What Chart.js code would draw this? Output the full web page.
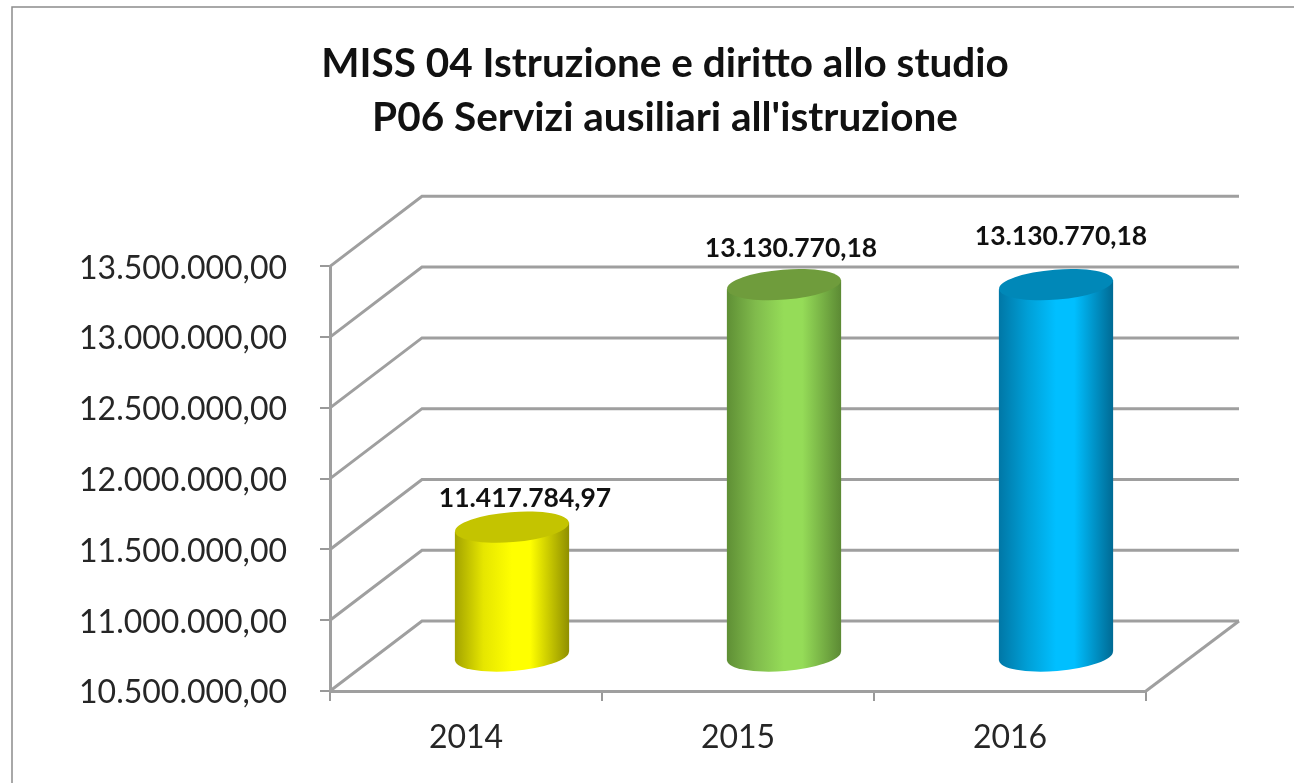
<!DOCTYPE html>
<html><head><meta charset="utf-8">
<style>html,body{margin:0;padding:0;background:#fff;overflow:hidden;width:1294px;height:783px}canvas{display:block}</style>
<script src="https://cdn.jsdelivr.net/npm/chart.js@4"></script>
</head><body><canvas id="c" width="1330" height="783"></canvas>
<script>
const categories = ['2014','2015','2016'];
const values = [11417784.97, 13130770.18, 13130770.18];
const titleLines = ['MISS 04 Istruzione e diritto allo studio', "P06 Servizi ausiliari all'istruzione"];
const axisMin = 10500000, axisMax = 13500000, axisStep = 500000;
const bodyStops = [
  ['#a3a300','#e6e600','#ffff00','#ffff00','#8f8f00'],
  ['#5f8f35','#80bb4c','#95dc58','#95dc58','#5c8a34'],
  ['#0077a6','#009fd6','#00bfff','#00bfff','#006a94']
];
const capColors = ['#c4c400','#6f9c3c','#0088b8'];

const fmt = v => new Intl.NumberFormat('it-IT',{minimumFractionDigits:2,maximumFractionDigits:2,useGrouping:'always'}).format(v);
const font = 'Lato, Carlito, sans-serif';
const WALL = {dx:92, dy:-70}, BAR = {dx:46, dy:-34}, TILT = -0.08, RY = 15;
const GRID = '#9f9f9f';
const labelNudge = [[13,-29],[7,-36],[5,-48]];

function bodyGradient(el,i,c){
  const half = el.width/2;
  const g = c.createLinearGradient(el.x-half,0,el.x+half,0);
  const s = bodyStops[i];
  [0,0.25,0.5,0.66,1].forEach((p,j)=>g.addColorStop(p,s[j]));
  return g;
}

const cylinder3d = {
  id:'cylinder3d',
  beforeDatasetsDraw(chart){
    const c = chart.ctx, a = chart.chartArea, y = chart.scales.y;
    c.save();
    c.strokeStyle = GRID; c.lineWidth = 3; c.lineJoin='miter';
    y.ticks.forEach(t=>{
      const p = y.getPixelForValue(t.value);
      c.beginPath(); c.moveTo(a.left,p); c.lineTo(a.left+WALL.dx,p+WALL.dy); c.lineTo(a.right+WALL.dx+1,p+WALL.dy); c.stroke();
    });
    c.beginPath(); c.moveTo(a.right,a.bottom); c.lineTo(a.right+WALL.dx+1,a.bottom+WALL.dy); c.stroke();
    c.restore();

    const els = chart.getDatasetMeta(0).data;
    els.forEach((el,i)=>{
      const w = el.width/2, fill = bodyGradient(el,i,c);
      el.options.backgroundColor = fill;
      const k = Math.tan(TILT);
      c.save();
      c.translate(BAR.dx,BAR.dy);
      // lower end of the cylinder
      c.fillStyle = fill;
      c.beginPath(); c.ellipse(el.x,el.base,w,RY,TILT,0,Math.PI*2); c.fill();
      // body: the library's own bar, sheared to follow the tilted ends
      c.save();
      c.transform(1,k,0,1,0,-k*el.x);
      el.draw(c);
      c.restore();
      // upper cap
      c.fillStyle = capColors[i];
      c.beginPath(); c.ellipse(el.x,el.y,w,RY,TILT,0,Math.PI*2); c.fill();
      c.restore();
    });
    return false;
  },
  afterDraw(chart){
    const c = chart.ctx;
    c.save();
    c.font = 'bold 26.5px '+font; c.fillStyle='#111'; c.textAlign='center'; c.textBaseline='middle';
    chart.getDatasetMeta(0).data.forEach((el,i)=>{
      c.fillText(fmt(values[i]), el.x+BAR.dx+labelNudge[i][0], el.y+BAR.dy+labelNudge[i][1]);
    });
    c.restore();
  }
};
const frame = {
  id:'frame',
  beforeDraw(chart){
    const c = chart.ctx;
    c.save(); c.strokeStyle='#8c8c8c'; c.lineWidth=1.5;
    c.strokeRect(12,7,1340,800);
    c.restore();
  }
};

new Chart(document.getElementById('c'),{
  type:'bar',
  data:{labels:categories,datasets:[{data:values,base:axisMin,backgroundColor:'#999999',barPercentage:0.42,categoryPercentage:1,borderWidth:0,clip:false}]},
  plugins:[frame,cylinder3d],
  options:{
    responsive:false,animation:false,
    plugins:{
      legend:{display:false},tooltip:{enabled:false},
      title:{display:true,text:titleLines,color:'#111',font:{family:font,size:40.5,weight:'bold',lineHeight:1.325},padding:{top:37,bottom:122}}
    },
    scales:{
      x:{
        afterFit(s){s.height=92;},
        border:{color:GRID,width:3},
        grid:{drawOnChartArea:false,drawTicks:true,tickLength:10,color:'#999',lineWidth:2,offset:true},
        ticks:{color:'#262626',font:{family:font,size:32},padding:17,maxRotation:0}
      },
      y:{
        min:axisMin,max:axisMax,
        afterFit(s){s.width=330;},
        border:{color:GRID,width:3},
        grid:{drawOnChartArea:false,drawTicks:true,tickLength:10,color:'#999',lineWidth:2},
        ticks:{stepSize:axisStep,color:'#262626',font:{family:font,size:32},padding:33,labelOffset:2,callback:v=>fmt(v)}
      },
      rightGap:{
        type:'linear',position:'right',display:true,
        afterFit(s){s.width=184;},
        border:{display:false},grid:{display:false},ticks:{display:false}
      }
    }
  }
});
</script></body></html>
